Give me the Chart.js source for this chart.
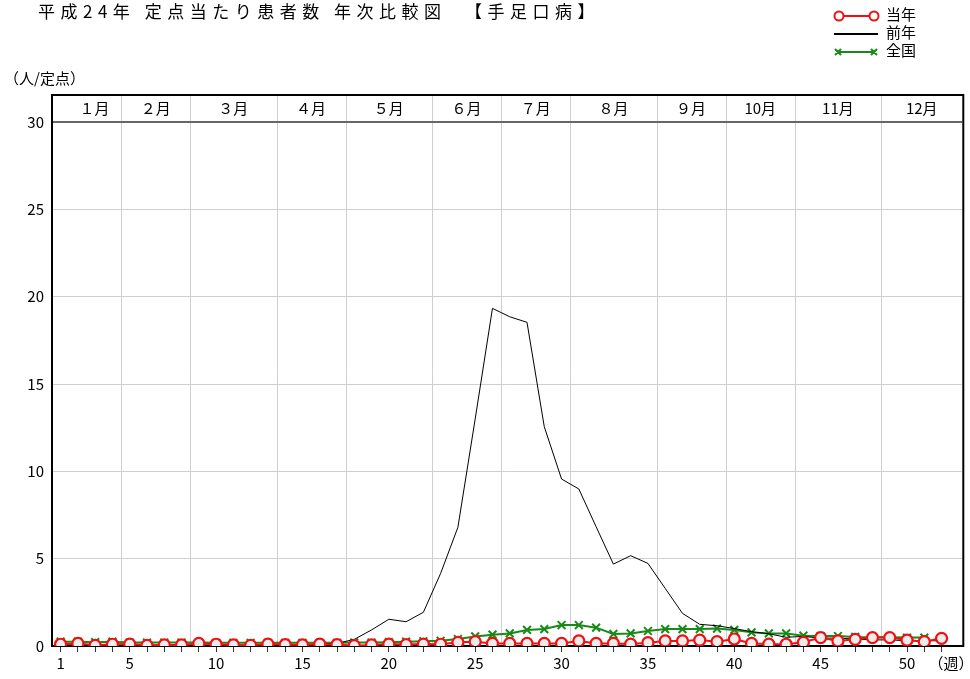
<!DOCTYPE html>
<html lang="ja">
<head>
<meta charset="utf-8">
<title>手足口病 年次比較図</title>
<script src="https://cdn.jsdelivr.net/npm/chart.js@4.4.1/dist/chart.umd.min.js"></script>
<style>
    html, body { margin: 0; padding: 0; background: #fff; }
    #wrap { position: relative; width: 970px; height: 679px; font-family: "Noto Sans CJK JP", sans-serif; color: #000; }
    #chart { position: absolute; left: 0; top: 0; }
    .title { position: absolute; left: 38px; top: -2px; font-size: 17px; letter-spacing: 5.5px; white-space: pre; }
    .unit { position: absolute; left: 4px; top: 67px; font-size: 15px; }
    .legend { position: absolute; left: 886px; top: 5px; font-size: 15px; line-height: 18px; }
</style>
</head>
<body>
<div id="wrap">
    <canvas id="chart" width="970" height="679"></canvas>
    <div class="title">平成24年 定点当たり患者数 年次比較図  【手足口病】</div>
    <div class="unit">（人/定点）</div>
    <div class="legend">当年<br>前年<br>全国</div>
</div>
<script>
// 週（横軸）
const weeks = [1, 2, 3, 4, 5, 6, 7, 8, 9, 10, 11, 12, 13, 14, 15, 16, 17, 18, 19, 20,
    21, 22, 23, 24, 25, 26, 27, 28, 29, 30, 31, 32, 33, 34, 35, 36, 37, 38, 39, 40,
    41, 42, 43, 44, 45, 46, 47, 48, 49, 50, 51, 52];

// 当年（平成24年）
const currentYear = [0.10, 0.15, 0.04, 0.10, 0.11, 0.04, 0.06, 0.06, 0.15, 0.10,
    0.06, 0.04, 0.11, 0.08, 0.06, 0.11, 0.08, 0.02, 0.06, 0.11,
    0.08, 0.11, 0.10, 0.21, 0.25, 0.15, 0.15, 0.15, 0.15, 0.15,
    0.29, 0.15, 0.15, 0.11, 0.19, 0.29, 0.29, 0.34, 0.25, 0.40,
    0.15, 0.11, 0.10, 0.21, 0.48, 0.29, 0.38, 0.48, 0.48, 0.34,
    0.25, 0.44];

// 前年
const previousYear = [0.10, 0.10, 0.08, 0.08, 0.06, 0.05, 0.05, 0.05, 0.05, 0.05,
    0.05, 0.05, 0.06, 0.06, 0.08, 0.10, 0.15, 0.38, 0.92, 1.53,
    1.39, 1.93, 4.16, 6.80, 13.0, 19.33, 18.85, 18.53, 12.55, 9.56,
    8.99, 6.83, 4.69, 5.17, 4.73, 3.30, 1.87, 1.24, 1.16, 1.00,
    0.82, 0.70, 0.50, 0.55, 0.45, 0.45, 0.40, 0.35, 0.35, 0.30,
    0.30, 0.30];

// 全国
const national = [0.25, 0.25, 0.22, 0.25, 0.20, 0.20, 0.20, 0.20, 0.20, 0.18,
    0.18, 0.18, 0.18, 0.18, 0.18, 0.18, 0.18, 0.20, 0.20, 0.22,
    0.25, 0.27, 0.30, 0.40, 0.55, 0.65, 0.72, 0.92, 0.97, 1.20,
    1.20, 1.05, 0.69, 0.72, 0.86, 0.97, 0.97, 0.97, 1.00, 0.92,
    0.78, 0.72, 0.72, 0.59, 0.57, 0.57, 0.52, 0.50, 0.50, 0.48,
    0.48];

// 月の区切り（週単位）と月名
const monthBounds = [4.5, 8.5, 13.5, 17.5, 22.5, 26.5, 30.5, 35.5, 39.5, 43.5, 48.5];
const monthLabels = ['１月', '２月', '３月', '４月', '５月', '６月', '７月', '８月', '９月', '10月', '11月', '12月'];

// 目盛り
const weekLabels = [1, 5, 10, 15, 20, 25, 30, 35, 40, 45, 50];
const yTicks = [0, 5, 10, 15, 20, 25, 30];

const RED = '#f01010';
const GREEN = '#188a18';
const GRID = '#cfcfcf';
const BAND_TOP = 95;

const toPoints = values => values.map((v, i) => ({ x: weeks[i], y: v }));

// 月見出し・枠線・凡例記号を描く
const framePlugin = {
    id: 'frame',
    beforeDatasetsDraw(chart) {
        const { ctx, chartArea: a, scales: { x } } = chart;
        ctx.save();
        // 月の区切り線
        ctx.strokeStyle = GRID;
        ctx.lineWidth = 1;
        monthBounds.forEach(b => {
            const px = Math.round(x.getPixelForValue(b)) + 0.5;
            ctx.beginPath();
            ctx.moveTo(px, BAND_TOP);
            ctx.lineTo(px, a.bottom);
            ctx.stroke();
        });
        // 見出しの下線
        ctx.strokeStyle = '#666';
        ctx.lineWidth = 2;
        ctx.beginPath();
        ctx.moveTo(a.left, a.top);
        ctx.lineTo(a.right, a.top);
        ctx.stroke();
        // 外枠
        ctx.strokeStyle = '#000';
        ctx.lineWidth = 2;
        ctx.beginPath();
        ctx.moveTo(a.left, a.bottom);
        ctx.lineTo(a.left, BAND_TOP);
        ctx.lineTo(a.right + 1, BAND_TOP);
        ctx.lineTo(a.right + 1, a.bottom);
        ctx.lineTo(a.left, a.bottom);
        ctx.stroke();
        // 月名
        const edges = [x.min].concat(monthBounds, [x.max]);
        ctx.fillStyle = '#000';
        ctx.font = '15px "Noto Sans CJK JP"';
        ctx.textAlign = 'center';
        ctx.textBaseline = 'middle';
        monthLabels.forEach((m, i) => {
            const cx = (x.getPixelForValue(edges[i]) + x.getPixelForValue(edges[i + 1])) / 2;
            ctx.fillText(m, cx + (i === 0 ? 8 : 0), (BAND_TOP + a.top) / 2);
        });
        ctx.restore();
    },
    afterDraw(chart) {
        const ctx = chart.ctx;
        ctx.save();
        // 当年
        ctx.strokeStyle = RED;
        ctx.lineWidth = 2;
        ctx.beginPath();
        ctx.moveTo(839, 16);
        ctx.lineTo(874, 16);
        ctx.stroke();
        [839, 874].forEach(cx => {
            ctx.beginPath();
            ctx.arc(cx, 16, 4.5, 0, Math.PI * 2);
            ctx.fillStyle = '#fff';
            ctx.fill();
            ctx.stroke();
        });
        // 前年
        ctx.strokeStyle = '#000';
        ctx.beginPath();
        ctx.moveTo(834, 34);
        ctx.lineTo(878, 34);
        ctx.stroke();
        // 全国
        ctx.strokeStyle = GREEN;
        ctx.beginPath();
        ctx.moveTo(838, 52);
        ctx.lineTo(874, 52);
        [838, 874].forEach(cx => {
            ctx.moveTo(cx - 3, 49);
            ctx.lineTo(cx + 3, 55);
            ctx.moveTo(cx + 3, 49);
            ctx.lineTo(cx - 3, 55);
        });
        ctx.stroke();
        ctx.restore();
    }
};

Chart.defaults.font.family = '"Noto Sans CJK JP", sans-serif';
Chart.defaults.font.size = 15;
Chart.defaults.color = '#000';

new Chart(document.getElementById('chart'), {
    type: 'line',
    data: {
        datasets: [
            {
                label: '当年',
                data: toPoints(currentYear),
                borderColor: RED,
                borderWidth: 2,
                pointStyle: 'circle',
                pointRadius: 5.5,
                pointBorderWidth: 2.2,
                pointBorderColor: RED,
                pointBackgroundColor: '#ececec',
                tension: 0
            },
            {
                label: '前年',
                data: toPoints(previousYear),
                borderColor: '#000',
                borderWidth: 1,
                pointRadius: 0,
                tension: 0
            },
            {
                label: '全国',
                data: toPoints(national),
                borderColor: GREEN,
                borderWidth: 2,
                pointStyle: 'crossRot',
                pointRadius: 5.5,
                pointBorderWidth: 2,
                pointBorderColor: GREEN,
                tension: 0
            }
        ]
    },
    options: {
        responsive: false,
        animation: false,
        devicePixelRatio: 1,
        layout: { padding: { left: 0, right: 7, top: 122, bottom: 0 } },
        plugins: {
            legend: { display: false },
            tooltip: { enabled: false }
        },
        scales: {
            x: {
                type: 'linear',
                min: 0.5,
                max: 53.2,
                afterBuildTicks: scale => {
                    scale.ticks = weeks.map(w => ({ value: w })).concat([{ value: 52.55 }]);
                },
                afterFit: scale => {
                    scale.height = 33;
                    scale.paddingLeft = 0;
                    scale.paddingRight = 0;
                },
                ticks: {
                    autoSkip: false,
                    maxRotation: 0,
                    padding: 2,
                    callback: v => v > 52 ? '（週）' : (weekLabels.includes(v) ? String(v) : '')
                },
                grid: {
                    drawOnChartArea: false,
                    drawTicks: true,
                    tickLength: 6,
                    color: c => (c.tick && c.tick.value > 52) ? 'rgba(0,0,0,0)' : '#333'
                },
                border: { display: true, color: '#000', width: 2 }
            },
            y: {
                min: 0,
                max: 30,
                afterBuildTicks: scale => {
                    scale.ticks = yTicks.map(v => ({ value: v }));
                },
                afterFit: scale => {
                    scale.width = 52;
                    scale.paddingTop = 0;
                    scale.paddingBottom = 0;
                },
                ticks: { padding: 8 },
                grid: {
                    drawTicks: false,
                    color: c => (c.tick && (c.tick.value === 0 || c.tick.value === 30)) ? 'rgba(0,0,0,0)' : GRID
                },
                border: { display: true, color: '#000', width: 2 }
            }
        }
    },
    plugins: [framePlugin]
});
</script>
</body>
</html>
